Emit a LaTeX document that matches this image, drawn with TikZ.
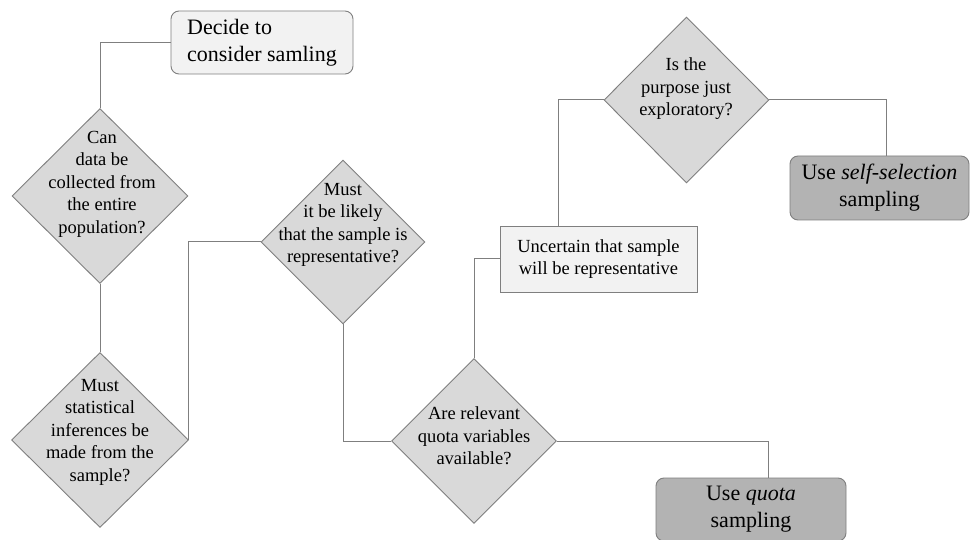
\documentclass[tikz,border=0pt]{standalone}
\usepackage{fontspec}
\setmainfont{Liberation Serif}
\usetikzlibrary{shapes.geometric}
\definecolor{edgegray}{HTML}{7F7F7F}
\definecolor{diafill}{HTML}{D9D9D9}
\definecolor{lightfill}{HTML}{F2F2F2}
\definecolor{endfill}{HTML}{B3B3B3}
\begin{document}
\begin{tikzpicture}[x=1pt,y=-1pt,
  decision/.style={diamond, draw=edgegray, fill=diafill, line width=0.9pt, inner sep=0pt},
  qtext/.style={align=center, font=\fontsize{18.5}{22.5}\selectfont, inner sep=0pt},
  startbox/.style={rectangle, rounded corners=8pt, draw=edgegray, fill=lightfill, line width=0.9pt, align=left, font=\fontsize{22}{27}\selectfont},
  notebox/.style={rectangle, draw=edgegray, fill=lightfill, line width=0.9pt, align=center, font=\fontsize{18.5}{22.5}\selectfont},
  endbox/.style={rectangle, rounded corners=8pt, draw=edgegray, fill=endfill, line width=0.9pt, align=center, font=\fontsize{22}{27}\selectfont},
  link/.style={draw=edgegray, line width=1pt}]
\useasboundingbox (0,0) rectangle (970,540);
\clip (0,0) rectangle (970,540);
\fill[white] (0,0) rectangle (970,540);

% start
\node[startbox, minimum width=182, minimum height=63] (start) at (262,42.5) {Decide to\\consider samling};

% decisions
\node[decision, minimum width=176, minimum height=175] (qpop) at (100,196) {};
\node[qtext] (qpopt) at (102,184) {Can\\data be\\collected from\\the entire\\population?};

\node[decision, minimum width=177, minimum height=175] (qinf) at (100,440) {};
\node[qtext] (qinft) at (100,432) {Must\\statistical\\inferences be\\made from the\\sample?};

\node[decision, minimum width=164, minimum height=164] (qrep) at (343,242) {};
\node[qtext] (qrept) at (343,225) {Must\\it be likely\\that the sample is\\representative?};

\node[decision, minimum width=165, minimum height=165] (qquota) at (474,441) {};
\node[qtext] (qquotat) at (474,436) {Are relevant\\quota variables\\available?};

\node[notebox, minimum width=197, minimum height=66] (unsure) at (598.5,259) {Uncertain that sample\\will be representative};

\node[decision, minimum width=165, minimum height=166] (qexp) at (686.5,100) {};
\node[qtext] (qexpt) at (686,89) {Is the\\purpose just\\exploratory?};

% outcomes
\node[endbox, minimum width=179, minimum height=64] (selfsel) at (879.5,188) {Use \textit{self-selection}\\sampling};
\node[endbox, minimum width=190, minimum height=63] (quota) at (751,509.5) {Use \textit{quota}\\sampling};

% connectors
\draw[link] (start.west) -| (qpop.north);
\draw[link] (qpop.south) -- (qinf.north);
\draw[link] (qinf.east) |- (qrep.west);
\draw[link] (qrep.south) |- (qquota.west);
\draw[link] (qquota.north) |- (unsure.west);
\draw[link] ([xshift=59pt]unsure.north west) |- (qexp.west);
\draw[link] (qexp.east) -| ([xshift=7pt]selfsel.north);
\draw[link] (qquota.east) -| ([xshift=17pt]quota.north);
\end{tikzpicture}
\end{document}
